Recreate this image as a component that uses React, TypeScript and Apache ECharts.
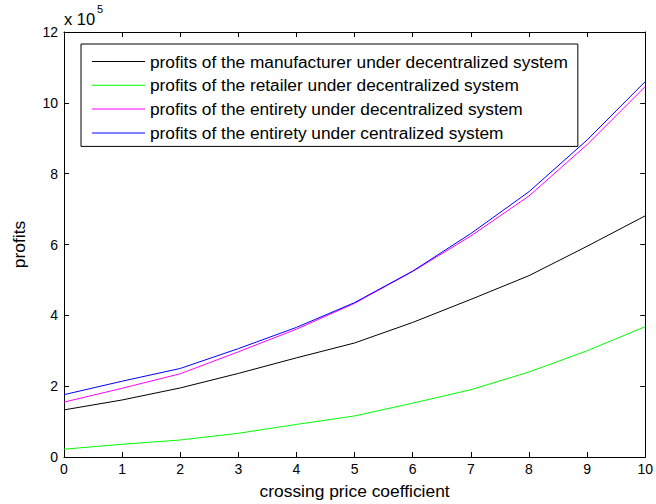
import React, { useEffect, useRef } from "react";
import * as echarts from "echarts";

// x values (crossing price coefficient)
const xValues = [0, 1, 2, 3, 4, 5, 6, 7, 8, 9, 10];
// profits, in units of 10^5
const manufacturerDec = [1.33, 1.61, 1.95, 2.36, 2.8, 3.22, 3.8, 4.45, 5.12, 5.95, 6.81];
const retailerDec = [0.22, 0.36, 0.48, 0.67, 0.92, 1.16, 1.52, 1.9, 2.4, 3.0, 3.68];
const entiretyDec = [1.55, 1.94, 2.35, 2.97, 3.61, 4.34, 5.24, 6.24, 7.37, 8.82, 10.46];
const entiretyCen = [1.76, 2.14, 2.5, 3.06, 3.66, 4.36, 5.25, 6.31, 7.49, 8.95, 10.6];

const seriesNames = [
  "profits of the manufacturer under decentralized system",
  "profits of the retailer under decentralized system",
  "profits of the entirety under decentralized system",
  "profits of the entirety under centralized system",
];
const seriesColors = ["#000000", "#00ff00", "#ff00ff", "#0000ff"];
const seriesData = [manufacturerDec, retailerDec, entiretyDec, entiretyCen];

const FONT = "'Liberation Sans', Arial, Helvetica, sans-serif";

export default function App() {
  const ref = useRef<HTMLDivElement>(null);
  useEffect(() => {
    if (!ref.current) return;
    const chart = echarts.init(ref.current, undefined, { renderer: "svg" });
    const axisCommon = {
      axisLine: { show: true, onZero: false, lineStyle: { color: "#000", width: 1 } },
      axisTick: { show: true, inside: true, length: 5, lineStyle: { color: "#000", width: 1 } },
      splitLine: { show: false },
    };
    chart.setOption({
      animation: false,
      backgroundColor: "#ffffff",
      textStyle: { fontFamily: FONT },
      grid: { left: 64, right: 10, top: 32, bottom: 45, containLabel: false },
      graphic: [
        { type: "text", left: 64, top: 10, style: { text: "x 10", fontSize: 16.5, fill: "#000", fontFamily: FONT } },
        { type: "text", left: 97, top: 3, style: { text: "5", fontSize: 11, fill: "#000", fontFamily: FONT } },
      ],
      legend: {
        orient: "vertical",
        left: 81,
        top: 44,
        data: seriesNames.map((n, i) => ({ name: n, itemStyle: { color: seriesColors[i] } })),
        icon: "rect",
        itemWidth: 53,
        itemHeight: 1,
        itemGap: 6.8,
        padding: [9, 10, 5, 11],
        borderColor: "#000",
        borderWidth: 1,
        backgroundColor: "#ffffff",
        textStyle: { fontSize: 17.3, color: "#000", fontFamily: FONT },
      },
      xAxis: [
        {
          type: "value",
          min: 0,
          max: 10,
          interval: 1,
          position: "bottom",
          ...axisCommon,
          axisLabel: { fontSize: 14, color: "#000", margin: 5, fontFamily: FONT },
          name: "crossing price coefficient",
          nameLocation: "middle",
          nameGap: 25,
          nameTextStyle: { fontSize: 17.4, color: "#000", fontFamily: FONT },
        },
        {
          type: "value",
          min: 0,
          max: 10,
          interval: 1,
          position: "top",
          ...axisCommon,
          axisLabel: { show: false },
        },
      ],
      yAxis: [
        {
          type: "value",
          min: 0,
          max: 12,
          interval: 2,
          position: "left",
          ...axisCommon,
          axisLabel: { fontSize: 14, color: "#000", margin: 6, fontFamily: FONT },
          name: "profits",
          nameLocation: "middle",
          nameGap: 37,
          nameTextStyle: { fontSize: 17.4, color: "#000", fontFamily: FONT },
        },
        {
          type: "value",
          min: 0,
          max: 12,
          interval: 2,
          position: "right",
          ...axisCommon,
          axisLabel: { show: false },
        },
      ],
      series: seriesNames.map((name, i) => ({
        name,
        type: "line",
        xAxisIndex: 0,
        yAxisIndex: 0,
        data: xValues.map((x, j) => [x, seriesData[i][j]]),
        symbol: "none",
        showSymbol: false,
        color: seriesColors[i],
        lineStyle: { color: seriesColors[i], width: 1 },
        itemStyle: { color: seriesColors[i] },
      })),
    });
    return () => chart.dispose();
  }, []);
  return (
    <div
      ref={ref}
      style={{ position: "absolute", left: 0, top: 0, width: 656, height: 504, background: "#fff" }}
    />
  );
}
